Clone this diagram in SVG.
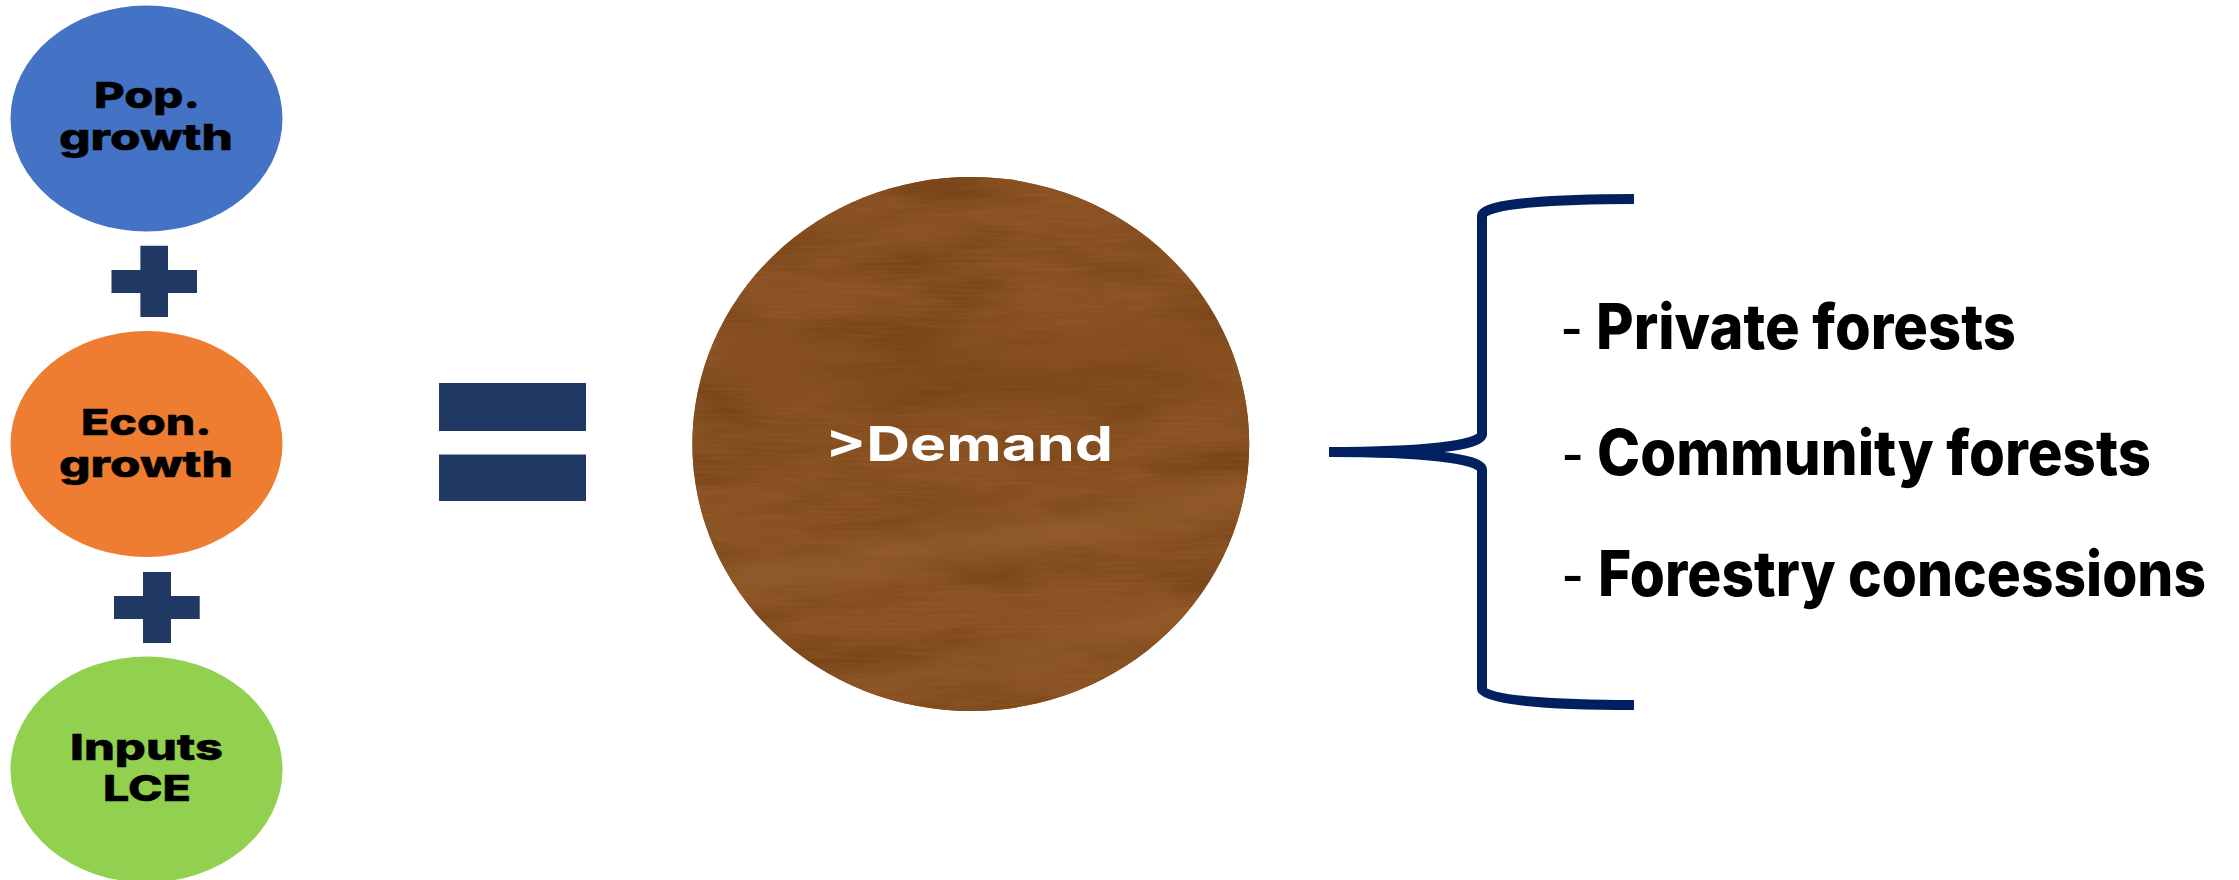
<svg xmlns="http://www.w3.org/2000/svg" width="2239" height="880" viewBox="0 0 2239 880">
<style>
.lbl{font-family:Inter,"DejaVu Sans",sans-serif;font-weight:800;font-size:36px;fill:#000;stroke:#000;stroke-width:.5}
.item{font-family:Inter,Roboto,sans-serif;font-weight:800;font-size:63px;fill:#000}
.dash{font-family:"Liberation Sans",sans-serif;font-size:64px;fill:#000}
.op{fill:#1f3864}
.brace{fill:none;stroke:#002060;stroke-width:10}
</style>
<defs>
<filter id="wood" x="0" y="0" width="100%" height="100%" color-interpolation-filters="sRGB">
<feTurbulence type="fractalNoise" baseFrequency="0.006 0.022" numOctaves="3" seed="7" result="big"/>
<feColorMatrix in="big" type="matrix" values="0 0 0 0 0.42  0 0 0 0 0.23  0 0 0 0 0.06  1.6 0 0 0 -0.62" result="dark"/>
<feTurbulence type="fractalNoise" baseFrequency="0.02 0.35" numOctaves="2" seed="3" result="fine"/>
<feColorMatrix in="fine" type="matrix" values="0 0 0 0 0.62  0 0 0 0 0.38  0 0 0 0 0.17  0 0.8 0 0 -0.34" result="light"/>
<feMerge result="tex"><feMergeNode in="dark"/><feMergeNode in="light"/></feMerge>
<feComposite in="tex" in2="SourceGraphic" operator="atop" result="t2"/>
<feMerge><feMergeNode in="SourceGraphic"/><feMergeNode in="t2"/></feMerge>
</filter>
<filter id="soft" x="-20%" y="-50%" width="140%" height="200%"><feGaussianBlur stdDeviation="10"/></filter>
<clipPath id="woodClip"><ellipse cx="970.8" cy="444" rx="278.4" ry="267"/></clipPath>
</defs>
<rect width="2239" height="880" fill="#fff"/>
<g id="pop-growth">
<ellipse cx="146.5" cy="118.5" rx="136" ry="113" fill="#4472c4"/>
<text class="lbl" x="94" y="108" textLength="106" lengthAdjust="spacingAndGlyphs">Pop.</text>
<text class="lbl" x="59" y="150" textLength="174" lengthAdjust="spacingAndGlyphs">growth</text>
</g>
<g id="plus-1"><path class="op" d="M140.4 245.8H168V270H197V293H168V317H140.4V293H111.5V270H140.4Z"/></g>
<g id="econ-growth">
<ellipse cx="146.5" cy="444" rx="136" ry="113" fill="#ee7d32"/>
<text class="lbl" x="81" y="435" textLength="130.500" lengthAdjust="spacingAndGlyphs">Econ.</text>
<text class="lbl" x="59" y="477" textLength="174" lengthAdjust="spacingAndGlyphs">growth</text>
</g>
<g id="plus-2"><path class="op" d="M143 572H171V596H199.700V619H171V643H143V619H114V596H143Z"/></g>
<g id="inputs-lce">
<ellipse cx="146.5" cy="769.5" rx="136" ry="113" fill="#92d150"/>
<text class="lbl" x="70" y="760" textLength="153" lengthAdjust="spacingAndGlyphs">Inputs</text>
<text class="lbl" x="103" y="801" textLength="88" lengthAdjust="spacingAndGlyphs">LCE</text>
</g>
<g id="equals">
<rect class="op" x="439" y="383" width="147" height="48"/>
<rect class="op" x="439" y="454.500" width="147" height="46.500"/>
</g>
<g id="demand">
<ellipse cx="970.8" cy="444" rx="278.4" ry="267" fill="#8a5223" filter="url(#wood)"/>
<g clip-path="url(#woodClip)">
<path d="M700 570C850 540 1050 520 1250 480L1250 510C1050 560 850 580 700 610Z" fill="#96602e" opacity=".6" filter="url(#soft)"/>
<path d="M800 690C950 650 1100 620 1250 590L1250 620C1100 660 950 690 800 720Z" fill="#96602e" opacity=".5" filter="url(#soft)"/>
<path d="M720 320C880 350 1050 340 1230 310L1230 400C1050 420 880 420 720 390Z" fill="#7f4a1c" opacity=".4" filter="url(#soft)"/>
</g>
<text x="825" y="460.700" font-family="Inter, DejaVu Sans, sans-serif" font-weight="700" font-size="48" fill="#fff" textLength="288" lengthAdjust="spacingAndGlyphs">&gt;Demand</text>
</g>
<g id="connectors">
<path class="brace" d="M1634 199C1560 199 1482 203 1482 216V434C1482 446 1420 452 1329 452C1420 452 1482 458 1482 470V689C1482 701 1560 705 1634 705"/>
</g>
<g id="list-private">
<text class="dash" x="1561" y="348.600">-</text>
<text class="item" x="1596" y="348.600" textLength="420" lengthAdjust="spacingAndGlyphs">Private forests</text>
</g>
<g id="list-community">
<text class="dash" x="1562" y="475">-</text>
<text class="item" x="1597" y="475" textLength="554" lengthAdjust="spacingAndGlyphs">Community forests</text>
</g>
<g id="list-concessions">
<text class="dash" x="1562" y="595.700">-</text>
<text class="item" x="1598" y="595.700" textLength="608" lengthAdjust="spacingAndGlyphs">Forestry concessions</text>
</g>
</svg>
